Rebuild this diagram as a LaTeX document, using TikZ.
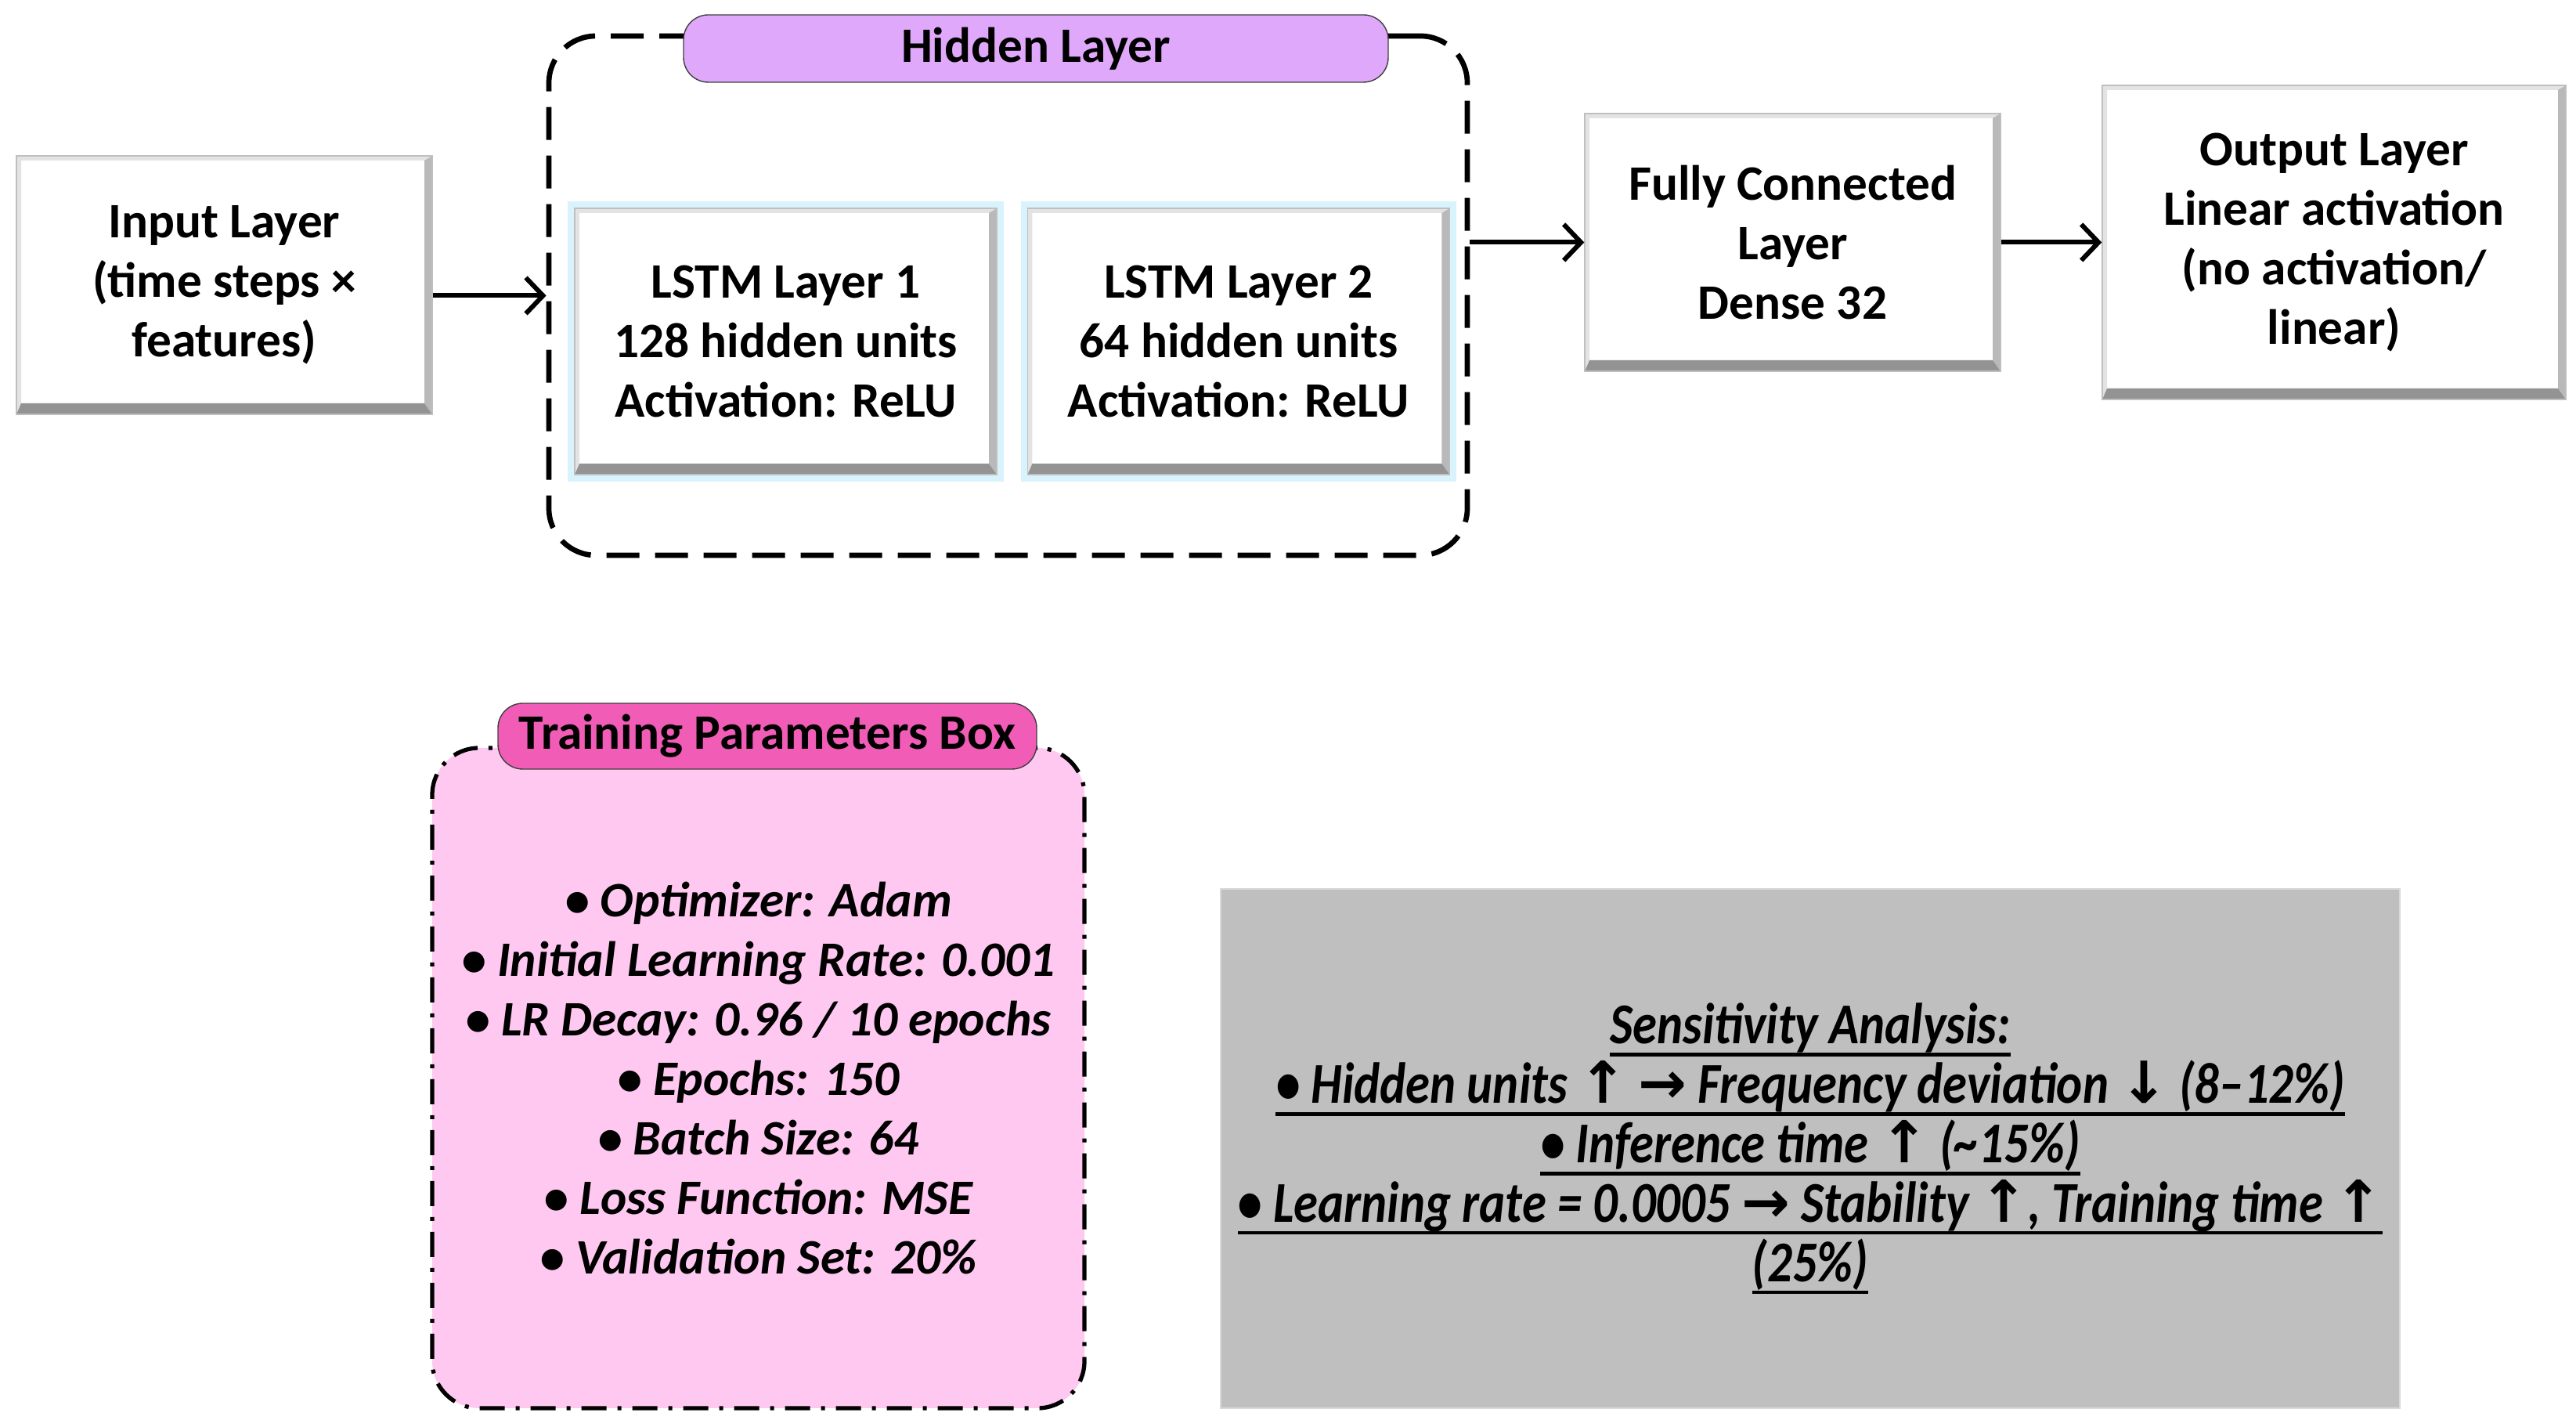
\documentclass[tikz,border=0pt]{standalone}
\usepackage{fontspec}
\setmainfont{Carlito}
\newfontfamily\symfont{DejaVu Sans}
\newfontfamily\condfont[FakeStretch=0.85]{Carlito}
\usetikzlibrary{arrows.meta, positioning, calc}

\definecolor{hidpurple}{RGB}{224,168,250}
\definecolor{trainpink}{RGB}{240,92,182}
\definecolor{paramfill}{RGB}{255,200,240}
\definecolor{sensgray}{RGB}{191,191,191}

\newcommand{\uln}[1]{\leavevmode\setbox0=\hbox{#1}\rlap{\rule[-0.22em]{\wd0}{1.2pt}}\box0}
\newcommand{\arrup}{{\symfont ↑}}
\newcommand{\arrdown}{{\symfont ↓}}
\newcommand{\arrright}{{\symfont →}}

\begin{document}
\begin{tikzpicture}[
    >={Straight Barb[length=2.2mm,width=4.6mm]},
    font=\bfseries\fontsize{18}{21.6}\selectfont,
    bevel/.style={path picture={
        \path (path picture bounding box.south west) coordinate (sw)
              (path picture bounding box.north east) coordinate (ne);
        \fill[gray!22] (sw) -- (sw|-ne) -- (ne) -- ($(ne)+(-0.1,-0.06)$) -- ($(sw|-ne)+(0.06,-0.06)$) -- ($(sw)+(0.06,0.14)$) -- cycle;
        \fill[gray!55] (ne) -- (ne|-sw) -- ($(ne|-sw)+(-0.1,0.14)$) -- ($(ne)+(-0.1,-0.06)$) -- cycle;
        \fill[gray!85] (sw) -- (ne|-sw) -- ($(ne|-sw)+(-0.1,0.14)$) -- ($(sw)+(0.06,0.14)$) -- cycle;
    }},
    layer/.style={rectangle, draw=gray!50, fill=white, align=center, bevel},
    lstm/.style={layer, preaction={draw=cyan!15, line width=5pt}, minimum width=5.39cm, minimum height=3.4cm},
    title/.style={rectangle, rounded corners=9pt, draw=black!75, thin, align=center, inner sep=2pt},
    arrow/.style={->, line width=1.7pt},
    group/.style={rectangle, draw, line width=1.9pt, dash pattern=on 0.42cm off 0.2cm, rounded corners=0.6cm},
    params/.style={rectangle, draw, fill=paramfill, line width=1.5pt, dash pattern=on 0.32cm off 0.14cm on 0.05cm off 0.14cm, rounded corners=0.6cm, align=center, font=\bfseries\itshape\fontsize{18}{21.6}\selectfont},
    sens/.style={rectangle, draw=gray!30, fill=sensgray, align=center, font=\condfont\bfseries\itshape\fontsize{21}{21.6}\selectfont}
]
\useasboundingbox (0,0) rectangle (32.9,18.22);

% ---- Top row: network layers ----
\node[layer, minimum width=5.31cm, minimum height=3.3cm] (input) at (2.865,14.58) {Input Layer\\(time steps ×\\features)};

\node[group, minimum width=11.73cm, minimum height=6.63cm] (hidden) at (12.875,14.445) {};
\node[title, fill=hidpurple, minimum width=9cm, minimum height=0.86cm] (hidtitle) at (13.23,17.6) {Hidden Layer};

\node[lstm] (lstm1) at (10.035,13.86) {LSTM Layer 1\\128 hidden units\\Activation: ReLU};
\node[lstm, right=0.38cm of lstm1] (lstm2) {LSTM Layer 2\\64 hidden units\\Activation: ReLU};

\node[layer, minimum width=5.31cm, minimum height=3.29cm] (dense) at (22.895,15.125) {Fully Connected\\Layer\\Dense 32};
\node[layer, minimum width=5.92cm, minimum height=4.01cm] (output) at (29.81,15.125) {Output Layer\\Linear activation\\(no activation/\\linear)};

% ---- Connections ----
\draw[arrow] (input.east |- hidden.west) -- (hidden.west);
\draw[arrow] (hidden.east |- dense.west) -- (dense.west);
\draw[arrow] (dense) -- (output);

% ---- Bottom row: training settings ----
\node[params, minimum width=8.33cm, minimum height=8.43cm] (trainbox) at (9.685,4.455) {%
  • Optimizer: Adam\\
  • Initial Learning Rate: 0.001\\
  • LR Decay: 0.96 / 10 epochs\\
  • Epochs: 150\\
  • Batch Size: 64\\
  • Loss Function: MSE\\
  • Validation Set: 20\%};
\node[title, fill=trainpink, minimum width=6.88cm, minimum height=0.84cm] (traintitle) at (9.8,8.82) {Training Parameters Box};

\node[sens, minimum width=15.06cm, minimum height=6.63cm] (sensbox) at (23.12,3.555) {%
  \uln{Sensitivity Analysis:}\\
  \uln{• Hidden units \arrup{} \arrright{} Frequency deviation \arrdown{} (8–12\%)}\\
  \uln{• Inference time \arrup{} (\textasciitilde15\%)}\\
  \uln{• Learning rate = 0.0005 \arrright{} Stability \arrup, Training time \arrup}\\
  \uln{(25\%)}};

\end{tikzpicture}
\end{document}
